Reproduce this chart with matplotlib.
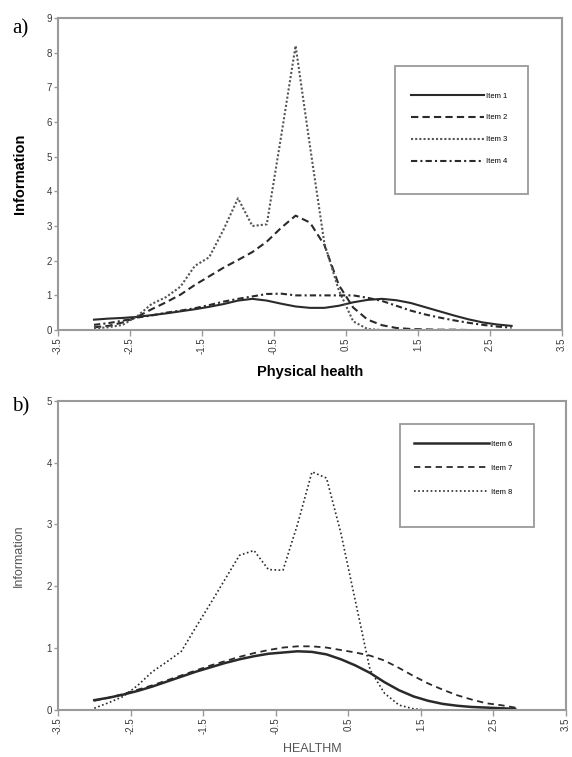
import numpy as np
import matplotlib
matplotlib.use("Agg")
import matplotlib.pyplot as plt
from matplotlib.patches import Rectangle

plt.rcParams['font.family'] = ['Liberation Sans', 'DejaVu Sans']
plt.rcParams['axes.unicode_minus'] = False

# theta grid shared by all curves
theta = [-3.0, -2.8, -2.6, -2.4, -2.2, -2.0, -1.8, -1.6, -1.4, -1.2, -1.0,
         -0.8, -0.6, -0.4, -0.2, 0.0, 0.2, 0.4, 0.6, 0.8, 1.0, 1.2, 1.4,
         1.6, 1.8, 2.0, 2.2, 2.4, 2.6, 2.8]

# panel a) physical health
item1 = [0.30, 0.33, 0.35, 0.38, 0.43, 0.48, 0.54, 0.60, 0.67, 0.75, 0.85,
         0.90, 0.85, 0.76, 0.68, 0.64, 0.64, 0.70, 0.80, 0.87, 0.90, 0.86,
         0.78, 0.66, 0.54, 0.42, 0.31, 0.22, 0.16, 0.12]
item2 = [0.08, 0.12, 0.22, 0.38, 0.60, 0.80, 1.02, 1.30, 1.55, 1.80, 2.02,
         2.25, 2.55, 2.95, 3.30, 3.10, 2.45, 1.30, 0.65, 0.30, 0.14, 0.06,
         0.03, 0.02, 0.01, 0.01, 0.0, 0.0, 0.0, 0.0]
item3 = [0.05, 0.08, 0.15, 0.40, 0.75, 0.95, 1.25, 1.85, 2.10, 2.90, 3.80,
         3.00, 3.05, 5.60, 8.20, 5.30, 2.50, 1.15, 0.25, 0.03, 0.0, 0.0,
         0.0, 0.0, 0.0, 0.0, 0.0, 0.0, 0.0, 0.0]
item4 = [0.15, 0.20, 0.27, 0.36, 0.42, 0.50, 0.56, 0.63, 0.72, 0.82, 0.90,
         0.97, 1.04, 1.05, 1.00, 1.00, 1.00, 1.00, 1.00, 0.93, 0.84, 0.70,
         0.56, 0.45, 0.36, 0.28, 0.21, 0.15, 0.10, 0.07]

# panel b) HEALTHM
item6 = [0.16, 0.20, 0.25, 0.31, 0.38, 0.46, 0.54, 0.62, 0.69, 0.76, 0.82,
         0.87, 0.91, 0.93, 0.95, 0.94, 0.90, 0.82, 0.72, 0.60, 0.45, 0.32,
         0.22, 0.15, 0.10, 0.07, 0.05, 0.04, 0.03, 0.02]
item7 = [0.15, 0.20, 0.26, 0.33, 0.40, 0.48, 0.56, 0.64, 0.72, 0.79, 0.86,
         0.92, 0.97, 1.01, 1.03, 1.03, 1.01, 0.97, 0.93, 0.88, 0.80, 0.68,
         0.55, 0.43, 0.33, 0.24, 0.17, 0.11, 0.08, 0.04]
item8 = [0.03, 0.12, 0.22, 0.40, 0.62, 0.78, 0.95, 1.34, 1.72, 2.11, 2.50,
         2.58, 2.27, 2.26, 3.00, 3.85, 3.75, 2.85, 1.75, 0.65, 0.27, 0.08,
         0.02, 0.0, 0.0, 0.0, 0.0, 0.0, 0.0, 0.02]

xticks = [-3.5, -2.5, -1.5, -0.5, 0.5, 1.5, 2.5, 3.5]
xlabels = ['-3.5', '-2.5', '-1.5', '-0.5', '0.5', '1.5', '2.5', '3.5']

spine_c = '#9a9a9a'
tick_c = '#3a3a3a'
line_c = '#2a2a2a'

fig = plt.figure(figsize=(5.72, 7.57), dpi=100)
ax1 = fig.add_axes([0.1014, 0.564, 0.8811, 0.4122])
ax2 = fig.add_axes([0.1014, 0.062, 0.8881, 0.4087])


def style(ax, ymax):
    ax.set_xlim(-3.5, 3.5)
    ax.set_ylim(0, ymax)
    ax.set_xticks(xticks)
    ax.set_xticklabels(xlabels, rotation=90, fontsize=7, color=tick_c)
    ax.set_yticks(range(ymax + 1))
    ax.tick_params(axis='y', labelsize=7, labelcolor=tick_c, length=3,
                   width=1, color=spine_c, pad=1.5)
    ax.tick_params(axis='x', length=4, width=1, color=spine_c, pad=1.5)
    for s in ax.spines.values():
        s.set_color(spine_c)
        s.set_linewidth(1.5)


# a)
ax1.plot(theta, item1, color=line_c, lw=1.5, ls='-', label='Item 1')
ax1.plot(theta, item2, color=line_c, lw=1.5, ls=(0, (3.5, 2)), label='Item 2')
ax1.plot(theta, item3, color='#555555', lw=1.5, ls=(0, (1, 1)), label='Item 3')
ax1.plot(theta, item4, color=line_c, lw=1.5, ls=(0, (3, 1.5, 1, 1.5)), label='Item 4')
style(ax1, 9)
ax1.set_ylabel('Information', fontsize=10.5, fontweight='bold')
ax1.yaxis.set_label_coords(-0.061, 0.5)
ax1.set_xlabel('Physical health', fontsize=10.5, fontweight='bold', labelpad=8)
ax1.add_patch(Rectangle((0.669, 0.436), 0.264, 0.41, transform=ax1.transAxes,
                        fill=False, edgecolor=spine_c, lw=1.3))
ax1.legend(loc='upper left', bbox_to_anchor=(0.700, 0.762), frameon=False,
           fontsize=5.5, handlelength=9.6, handletextpad=0.25, labelspacing=1.9,
           borderpad=0, borderaxespad=0)
fig.text(0.021, 0.962, 'a)', family='Liberation Serif', fontsize=15,
         va='center', ha='left')

# b)
ax2.plot(theta, item6, color=line_c, lw=1.8, ls='-', label='Item 6')
ax2.plot(theta, item7, color=line_c, lw=1.3, ls=(0, (3.5, 2.5)), label='Item 7')
ax2.plot(theta, item8, color=line_c, lw=1.2, ls=(0, (1, 1.5)), label='Item 8')
style(ax2, 5)
ax2.set_ylabel('Information', fontsize=9, color='#555555')
ax2.yaxis.set_label_coords(-0.065, 0.5)
ax2.set_xlabel('HEALTHM', fontsize=9, color='#555555', labelpad=6)
ax2.add_patch(Rectangle((0.674, 0.592), 0.264, 0.333, transform=ax2.transAxes,
                        fill=False, edgecolor=spine_c, lw=1.3))
ax2.legend(loc='upper left', bbox_to_anchor=(0.701, 0.872), frameon=False,
           fontsize=5.5, handlelength=9.8, handletextpad=0.25, labelspacing=2.2,
           borderpad=0, borderaxespad=0)
fig.text(0.021, 0.462, 'b)', family='Liberation Serif', fontsize=15,
         va='center', ha='left')

fig.savefig('out.png', dpi=100)
